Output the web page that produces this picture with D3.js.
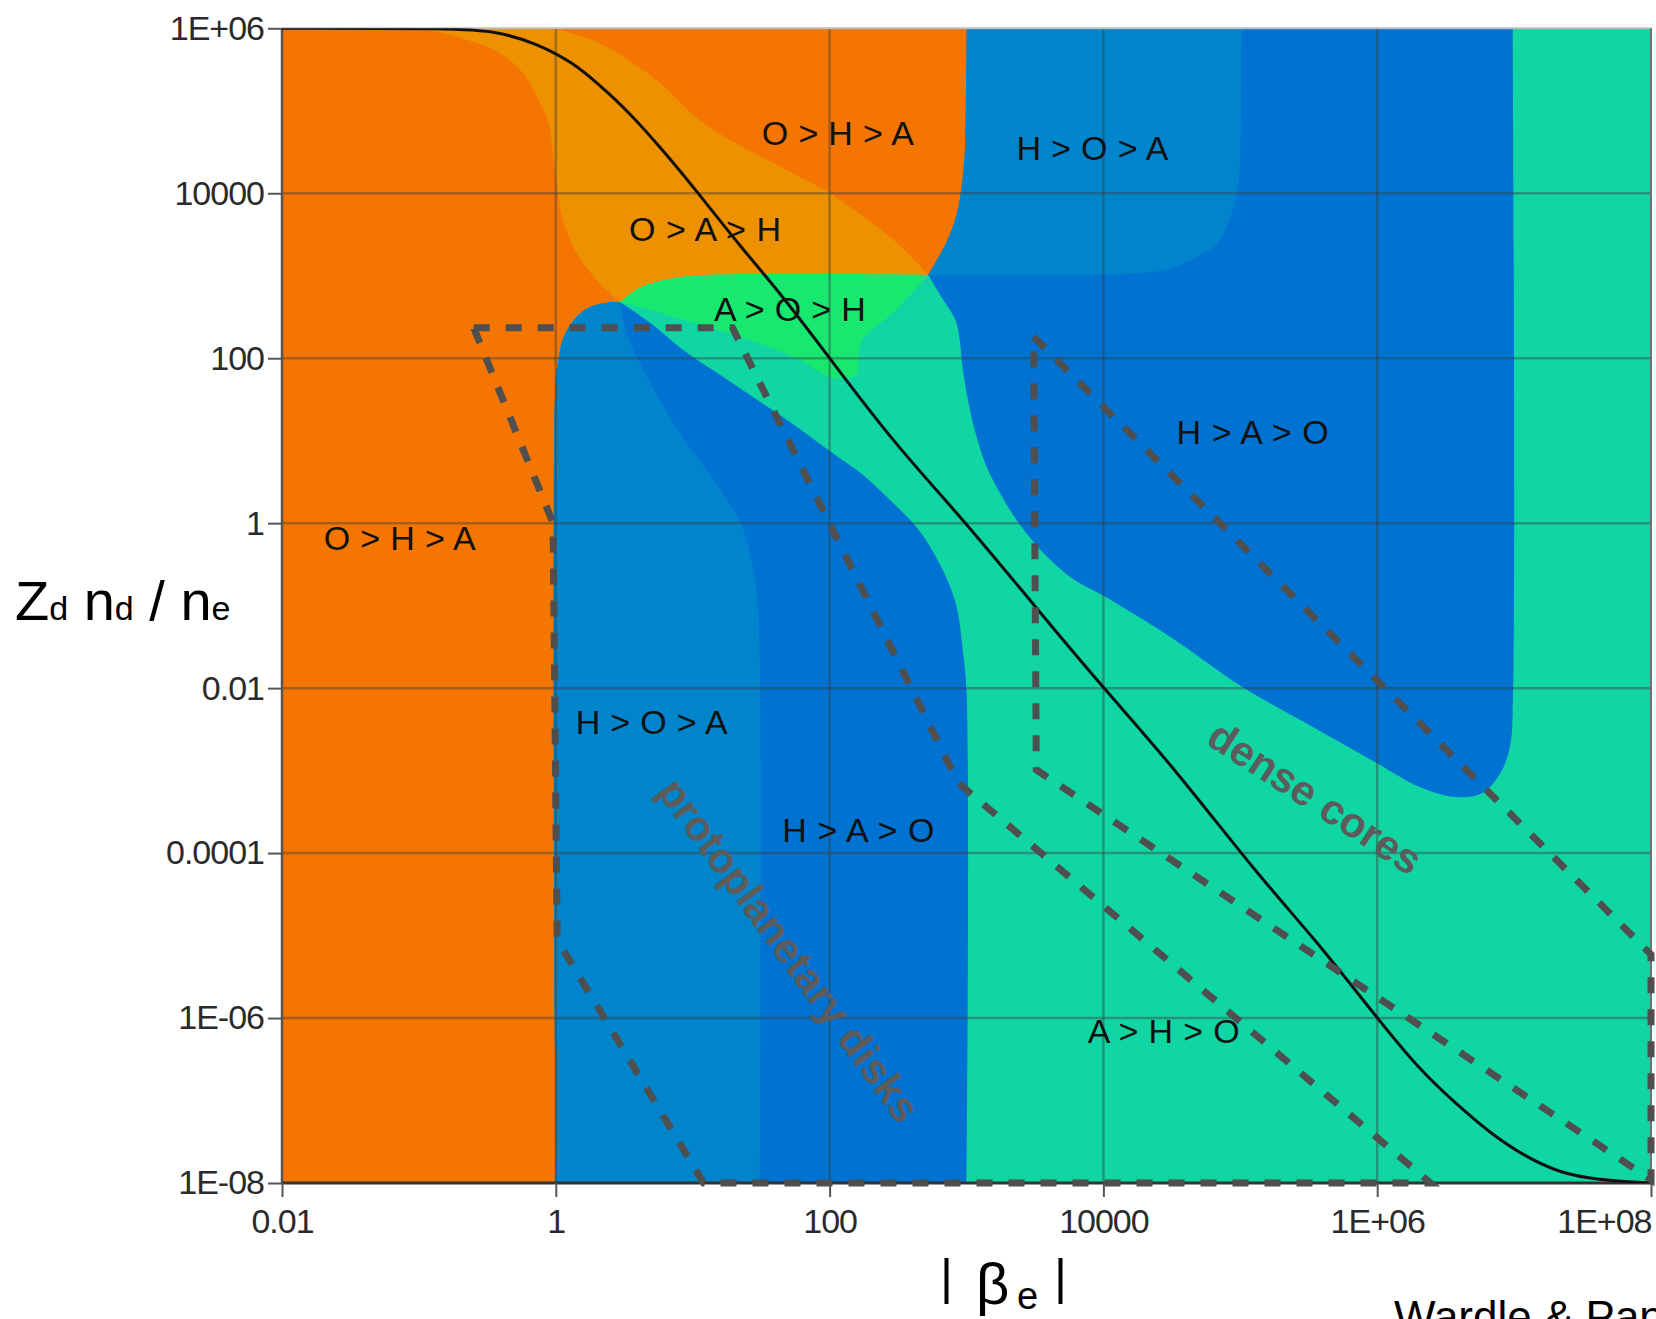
<!DOCTYPE html>
<html>
<head>
<meta charset="utf-8">
<script src="https://cdn.jsdelivr.net/npm/d3@7"></script>
<style>
  html, body { margin: 0; padding: 0; background: #fff; }
  svg { display: block; }
</style>
</head>
<body>
<div id="chart"></div>
<script>
// all points are [log10 |beta_e|, log10 (Zd nd / ne)]
const xTicks = [1e-2, 1, 1e2, 1e4, 1e6, 1e8];
const xTickLabels = ["0.01", "1", "100", "10000", "1E+06", "1E+08"];
const yTicks = [1e6, 1e4, 1e2, 1, 1e-2, 1e-4, 1e-6, 1e-8];
const yTickLabels = ["1E+06", "10000", "100", "1", "0.01", "0.0001", "1E-06", "1E-08"];

// H > A > O, upper right block
const haoUpper = [[2.72,3.01],[2.83,2.71],[2.92,2.46],[2.95,2.22],[2.97,1.90],[3.01,1.50],[3.06,1.13],
  [3.14,0.71],[3.26,0.32],[3.39,-0.02],[3.59,-0.41],[3.79,-0.69],[4.01,-0.89],[4.49,-1.38],[5.01,-1.98],
  [5.53,-2.47],[6.00,-2.91],[6.31,-3.20],[6.57,-3.32],[6.77,-3.27],[6.90,-3.03],[6.97,-2.71],[6.99,-2.30],
  [6.99,6],[2.95,6]];
// H > O > A, upper
const hoaUpper = [[3.00,6],[5.01,6],[5.00,4.52],[4.98,4.04],[4.92,3.68],[4.82,3.37],[4.68,3.23],[4.49,3.09],
  [4.27,3.03],[2.72,3.01],[2.86,3.43],[2.93,3.76],[2.97,4.16],[2.99,4.61]];
// O > H > A
const ohaRegion = [[-2,6],[3.00,6],[2.99,4.61],[2.97,4.16],[2.93,3.76],[2.86,3.43],[2.72,3.01],[1.10,3.01],
  [0.86,2.97],[0.62,2.86],[0.47,2.68],[0.40,2.68],[0.25,2.62],[0.13,2.46],[0.05,2.22],[0.02,1.98],[0,1.74],
  [0,-8],[-2,-8]];
// O > A > H
const oahRegion = [[-1.03,6],[-0.90,5.97],[-0.65,5.86],[-0.41,5.70],[-0.24,5.46],[-0.14,5.17],[-0.06,4.89],
  [-0.02,4.49],[0.01,4.08],[0.05,3.68],[0.15,3.28],[0.32,2.91],[0.47,2.68],[0.62,2.86],[0.86,2.97],[1.10,3.01],
  [2.72,3.01],[2.47,3.43],[2.00,4.00],[1.64,4.32],[1.08,4.85],[0.76,5.34],[0.56,5.58],[0.32,5.82],[0.01,5.98],
  [-0.26,6]];
// A > O > H
const aohRegion = [[0.47,2.68],[0.62,2.86],[0.86,2.97],[1.10,3.01],[2.72,3.01],[2.46,2.55],[2.24,2.22],
  [2.21,1.98],[2.20,1.80],[2.02,1.76],[1.78,1.98],[1.47,2.19],[1.10,2.38],[0.74,2.56],[0.54,2.65]];
// H > A > O, lower band
const haoLower = [[0,-8],[0,1.74],[0.02,1.98],[0.05,2.22],[0.13,2.46],[0.25,2.62],[0.40,2.68],[0.47,2.68],
  [0.69,2.43],[0.93,2.10],[1.18,1.82],[1.44,1.53],[1.69,1.25],[1.98,0.90],[2.24,0.59],[2.46,0.25],
  [2.65,-0.08],[2.79,-0.45],[2.89,-0.81],[2.94,-1.11],[2.97,-1.50],[3.00,-2.02],[3.00,-8]];
// H > O > A, lower band
const hoaLower = [[0,-8],[0,1.74],[0.02,1.98],[0.05,2.22],[0.13,2.46],[0.25,2.62],[0.40,2.68],[0.47,2.68],
  [0.52,2.28],[0.62,1.92],[0.76,1.49],[0.94,1.01],[1.13,0.58],[1.25,0.28],[1.35,0.0],[1.43,-0.45],
  [1.47,-0.89],[1.49,-1.69],[1.49,-8]];
// points where several regions meet
const junctions = [[2.72,3.01],[0.47,2.68]];

const criticalCurve = [[-2,6],[-0.71,6.0],[-0.43,5.96],[-0.14,5.82],[0.13,5.58],[0.32,5.31],[0.52,5.01],
  [0.80,4.49],[1.08,3.92],[1.35,3.35],[1.64,2.79],[2.01,1.98],[2.47,0.97],[3.00,0.0],[3.48,-0.97],
  [4.01,-2.02],[4.49,-2.91],[5.14,-4.29],[5.53,-5.01],[5.99,-5.98],[6.31,-6.63],[6.57,-7.03],[6.82,-7.39],
  [7.08,-7.68],[7.34,-7.88],[7.60,-7.96],[8.0,-8.0]];

const diskBox = [[-0.60,2.37],[1.29,2.37],[2.94,-3.15],[6.39,-8],[1.08,-8],[0.01,-5.05],[-0.02,0.0]];
const coreBox = [[3.49,2.26],[8.0,-5.23],[8.0,-7.96],[3.51,-2.99]];

const regionLabels = [
  {text: "O > H > A", at: [2.06, 4.73]},
  {text: "H > O > A", at: [3.92, 4.55]},
  {text: "O > A > H", at: [1.09, 3.57]},
  {text: "A > O > H", at: [1.71, 2.60]},
  {text: "H > A > O", at: [5.09, 1.11]},
  {text: "O > H > A", at: [-1.14, -0.18]},
  {text: "H > O > A", at: [0.70, -2.41]},
  {text: "H > A > O", at: [2.21, -3.72]},
  {text: "A > H > O", at: [4.44, -6.15]}
];
const slantLabels = [
  {text: "protoplanetary disks", at: [1.71, -5.17], angle: 54},
  {text: "dense cores", at: [5.55, -3.32], angle: 33}
];

const W = 1656, H = 1319;
const FONT = "Liberation Sans, Arial, sans-serif";
const svg = d3.select("#chart").append("svg")
    .attr("width", W).attr("height", H)
    .attr("viewBox", "0 0 " + W + " " + H);
svg.append("rect").attr("width", W).attr("height", H).attr("fill", "#fff");

const x = d3.scaleLog().domain([1e-2, 1e8]).range([282, 1651]);
const y = d3.scaleLog().domain([1e-8, 1e6]).range([1183, 28.3]);
const px = d => x(Math.pow(10, d[0]));
const py = d => y(Math.pow(10, d[1]));
const line = d3.line().x(px).y(py);
const smooth = d3.line().x(px).y(py).curve(d3.curveCatmullRomClosed.alpha(0.5));

// corners (on the frame or at a junction) are doubled so the spline keeps them sharp
const isCorner = p => p[0] <= -2 || p[0] >= 8 || p[1] >= 6 || p[1] <= -8 ||
  junctions.some(j => j[0] === p[0] && j[1] === p[1]);
function regionPath(pts) {
  const out = [];
  pts.forEach(p => { out.push(p); if (isCorner(p)) out.push(p); });
  return smooth(out);
}

svg.append("defs").append("clipPath").attr("id", "plot")
  .append("rect")
    .attr("x", x(1e-2)).attr("y", y(1e6))
    .attr("width", x(1e8) - x(1e-2)).attr("height", y(1e-8) - y(1e6));

const regions = svg.append("g").attr("clip-path", "url(#plot)");
regions.append("rect")
    .attr("x", x(1e-2)).attr("y", y(1e6))
    .attr("width", x(1e8) - x(1e-2)).attr("height", y(1e-8) - y(1e6))
    .attr("fill", "#10d6a4");
const layers = [
  [haoUpper, "#0072d2"],
  [hoaUpper, "#0085cc"],
  [ohaRegion, "#f47500"],
  [oahRegion, "#ee9100"],
  [aohRegion, "#18e870"],
  [haoLower, "#0072d2"],
  [hoaLower, "#0085cc"]
];
layers.forEach(l => {
  regions.append("path")
      .attr("d", regionPath(l[0]))
      .attr("fill", l[1]);
});

// grid
const grid = svg.append("g").attr("stroke", "rgba(60,60,60,0.42)").attr("stroke-width", 2.5);
xTicks.slice(1, -1).forEach(t => {
  grid.append("line").attr("x1", x(t)).attr("x2", x(t)).attr("y1", y(1e6)).attr("y2", y(1e-8));
});
yTicks.slice(1, -1).forEach(t => {
  grid.append("line").attr("x1", x(1e-2)).attr("x2", x(1e8)).attr("y1", y(t)).attr("y2", y(t));
});

// frame
svg.append("line").attr("x1", x(1e-2)).attr("x2", x(1e8)).attr("y1", y(1e6)).attr("y2", y(1e6))
    .attr("stroke", "#bdbdbd").attr("stroke-width", 2);
svg.append("line").attr("x1", x(1e8)).attr("x2", x(1e8)).attr("y1", y(1e6)).attr("y2", y(1e-8))
    .attr("stroke", "#6f6f6f").attr("stroke-width", 2);
svg.append("line").attr("x1", x(1e-2)).attr("x2", x(1e-2)).attr("y1", y(1e6)).attr("y2", y(1e-8))
    .attr("stroke", "#555").attr("stroke-width", 2.5);
svg.append("line").attr("x1", x(1e-2)).attr("x2", x(1e8)).attr("y1", y(1e-8)).attr("y2", y(1e-8))
    .attr("stroke", "#333").attr("stroke-width", 3);

// critical curve
svg.append("path")
    .attr("clip-path", "url(#plot)")
    .attr("d", d3.line().x(px).y(py).curve(d3.curveBasis)(criticalCurve))
    .attr("fill", "none").attr("stroke", "#111").attr("stroke-width", 3);

// dashed outlines
[diskBox, coreBox].forEach(b => {
  svg.append("path")
      .attr("d", line(b) + "Z")
      .attr("fill", "none")
      .attr("stroke", "#4f4f4f")
      .attr("stroke-width", 7)
      .attr("stroke-dasharray", "16 16");
});

// region labels
svg.append("g").selectAll("text").data(regionLabels).join("text")
    .attr("x", d => px(d.at)).attr("y", d => py(d.at))
    .attr("dy", "0.36em")
    .attr("text-anchor", "middle")
    .attr("textLength", 152).attr("lengthAdjust", "spacing")
    .attr("font-family", FONT)
    .attr("font-size", 34)
    .attr("fill", "#111")
    .text(d => d.text);

svg.append("g").selectAll("text").data(slantLabels).join("text")
    .attr("transform", d => "translate(" + px(d.at) + "," + py(d.at) + ") rotate(" + d.angle + ")")
    .attr("dy", "0.36em")
    .attr("text-anchor", "middle")
    .attr("font-family", FONT)
    .attr("font-weight", "bold")
    .attr("font-size", 42)
    .attr("fill", "#5c5c5c")
    .text(d => d.text);

// axes
const tickFont = g => {
  g.select(".domain").remove();
  g.selectAll(".tick line").attr("stroke", "#555").attr("stroke-width", 2);
  g.selectAll(".tick text")
      .attr("font-family", FONT)
      .attr("font-size", 34)
      .attr("letter-spacing", "-1px")
      .attr("fill", "#2a2a2a");
};
const gx = svg.append("g")
    .attr("transform", "translate(0," + y(1e-8) + ")")
    .call(d3.axisBottom(x).tickValues(xTicks).tickFormat((d, i) => xTickLabels[i])
      .tickSize(14).tickSizeOuter(0).tickPadding(12))
    .call(tickFont);
gx.selectAll(".tick").filter(d => d === 1e8).select("text")
    .attr("text-anchor", "end").attr("x", 0);

svg.append("g")
    .attr("transform", "translate(" + x(1e-2) + ",0)")
    .call(d3.axisLeft(y).tickValues(yTicks).tickFormat((d, i) => yTickLabels[i])
      .tickSize(14).tickSizeOuter(0).tickPadding(4))
    .call(tickFont);

// axis titles
const ylab = svg.append("text")
    .attr("x", 15).attr("y", 620)
    .attr("font-family", FONT)
    .attr("fill", "#000");
[["Z", 56], ["d", 34], [" n", 56], ["d", 34], [" / n", 56], ["e", 34]].forEach(p => {
  ylab.append("tspan").attr("font-size", p[1]).text(p[0]);
});

const xlab = svg.append("g")
    .attr("font-family", FONT)
    .attr("fill", "#000");
xlab.append("text").attr("x", 940).attr("y", 1294).attr("font-size", 50).text("|");
xlab.append("text").attr("x", 976).attr("y", 1304).attr("font-size", 58).text("β");
xlab.append("text").attr("x", 1017).attr("y", 1309).attr("font-size", 38).text("e");
xlab.append("text").attr("x", 1054).attr("y", 1294).attr("font-size", 50).text("|");

svg.append("text")
    .attr("x", 1394).attr("y", 1332)
    .attr("font-family", FONT)
    .attr("font-size", 44)
    .attr("fill", "#000")
    .text("Wardle & Pandey");
</script>
</body>
</html>
